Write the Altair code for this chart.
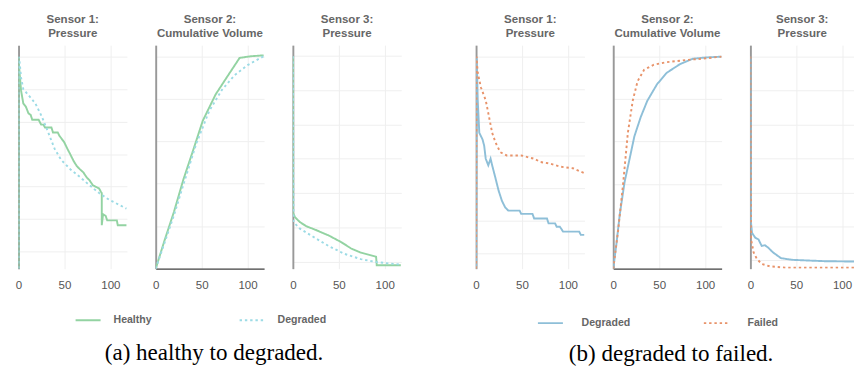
import altair as alt
import pandas as pd

X_TICKS = [0, 50, 100]

# ---------- (a) healthy -> degraded ----------
A_NAMES = ["Healthy", "Degraded"]
A_COLORS = ["#93d3a2", "#9cdbe5"]

a1_healthy_x = [0, 0, 1.0, 2.8, 5.2, 8.0, 10.8, 13.2, 14.9, 21.9, 24.6, 27.1, 28.8, 35.8, 37.5, 42.7, 44.4, 49.7,
                53.1, 56.6, 60.1, 63.5, 67.0, 70.5, 74.0, 77.4, 80.9, 84.4, 87.8, 89.6, 90.6, 90.6, 92.0, 94.8,
                96.5, 107.0, 108.0, 117.5]
a1_healthy_y = [-5.3, 60.0, 55.4, 49.5, 45.6, 44.6, 42.6, 42.1, 40.6, 40.6, 39.1, 39.1, 38.2, 38.2, 36.7, 36.7,
                35.7, 33.7, 31.7, 29.8, 27.8, 26.3, 25.3, 24.4, 22.9, 21.9, 20.4, 19.9, 19.4, 18.4, 18.0, 8.1,
                11.5, 11.0, 9.6, 9.6, 8.1, 8.1]
a1_degraded_x = [0, 0, 1.0, 2.8, 5.2, 11.5, 18.4, 25.3, 32.3, 39.2, 46.2, 56.6, 67.0, 77.4, 87.8, 98.3, 108.7, 117.5]
a1_degraded_y = [-5.3, 60.0, 58.9, 53.5, 50.0, 48.0, 45.6, 41.6, 36.7, 31.7, 28.3, 25.3, 22.9, 20.4, 18.0, 16.0,
                 14.5, 13.2]

a2_healthy_x = [0, 9.4, 19.9, 30.3, 40.8, 51.2, 65.2, 79.1, 91.3, 103.5, 117.5]
a2_healthy_y = [0, 0.65, 1.34, 2.11, 2.79, 3.48, 4.10, 4.56, 4.96, 5.00, 5.02]
a2_degraded_x = [0, 19.9, 30.3, 44.3, 58.2, 72.1, 86.1, 100.0, 117.5]
a2_degraded_y = [0, 1.26, 1.99, 2.95, 3.71, 4.21, 4.56, 4.79, 5.00]

a3_healthy_x = [0, 0, 2.4, 7.7, 14.6, 25.1, 39.0, 53.0, 63.4, 73.9, 90.6, 91.3, 117.5]
a3_healthy_y = [6.0, 1.43, 1.29, 1.15, 1.03, 0.92, 0.76, 0.56, 0.38, 0.26, 0.14, -0.11, -0.11]
a3_degraded_x = [0, 0.7, 7.7, 21.6, 39.0, 56.4, 73.9, 91.3, 117.5]
a3_degraded_y = [6.0, 1.15, 0.96, 0.73, 0.45, 0.22, 0.07, -0.02, -0.09]

# ---------- (b) degraded -> failed ----------
B_NAMES = ["Degraded", "Failed"]
B_COLORS = ["#8ebfd8", "#e8936a"]

b1_degraded_x = [0, 0.7, 1.8, 3.5, 7.0, 8.8, 10.5, 13.3, 15.8, 17.5, 21.1, 24.6, 28.1, 31.6, 35.1, 47.4, 49.1,
                 61.4, 63.2, 77.2, 78.9, 86.0, 87.7, 91.2, 94.7, 112.3, 114.0, 118.0]
b1_degraded_y = [-0.46, 5.95, 4.67, 3.68, 3.48, 3.29, 2.89, 2.69, 2.89, 2.69, 2.30, 1.91, 1.61, 1.41, 1.31, 1.31,
                 1.21, 1.21, 1.07, 1.07, 0.92, 0.92, 0.82, 0.82, 0.67, 0.67, 0.57, 0.57]
b1_failed_x = [0, 0.5, 1.8, 5.3, 10.5, 14.0, 17.5, 21.1, 26.3, 33.3, 49.1, 56.1, 63.2, 70.2, 80.7, 91.2, 105.3, 118.0]
b1_failed_y = [-0.46, 6.0, 5.51, 5.06, 4.67, 4.18, 3.68, 3.39, 3.09, 2.99, 2.99, 2.94, 2.89, 2.79, 2.74, 2.65,
               2.60, 2.45]

b2_degraded_x = [0, 3.5, 7.1, 12.4, 17.7, 23.0, 30.0, 37.1, 47.7, 58.3, 72.4, 86.6, 100.7, 118.0]
b2_degraded_y = [0, 0.59, 1.28, 2.05, 2.58, 3.12, 3.58, 3.96, 4.35, 4.62, 4.82, 4.95, 4.98, 5.00]
b2_failed_x = [0, 5.3, 10.6, 15.9, 21.2, 26.5, 33.6, 44.2, 58.3, 79.5, 100.7, 118.0]
b2_failed_y = [0, 0.90, 1.97, 3.20, 3.96, 4.42, 4.69, 4.81, 4.87, 4.92, 4.96, 5.00]

b3_degraded_x = [0, 0.7, 1.8, 5.3, 8.8, 12.3, 15.8, 19.3, 24.6, 33.3, 45.6, 63.2, 80.7, 113.0]
b3_degraded_y = [6.0, 1.10, 0.81, 0.67, 0.62, 0.43, 0.45, 0.38, 0.24, 0.07, 0.02, 0.0, -0.02, -0.03]
b3_failed_x = [0, 0.7, 3.5, 7.0, 12.3, 21.1, 38.6, 113.0]
b3_failed_y = [6.0, 0.62, 0.24, 0.05, -0.10, -0.17, -0.21, -0.21]

TITLE_FONT = "Liberation Sans"


def make_df(series):
    rows = []
    for name, xs, ys in series:
        for i, (x, y) in enumerate(zip(xs, ys)):
            rows.append({"t": x, "v": y, "series": name, "i": i})
    return pd.DataFrame(rows)


def panel(title, series, names, colors, xmax, width, ydom, yticks, zero_line, leg):
    df = make_df(series)
    leg_x, leg_y, lab_off, col_pad = leg
    legend = alt.Legend(
        title=None, orient="none", legendX=leg_x, legendY=leg_y, direction="horizontal",
        columns=2, gridAlign="all", columnPadding=col_pad, symbolType="stroke", symbolSize=680,
        symbolStrokeWidth=2, labelOffset=lab_off, labelFont=TITLE_FONT, labelFontSize=11,
        labelFontWeight="bold", labelColor="#666",
    )
    return alt.Chart(df).mark_line(strokeWidth=2, clip=True).encode(
        x=alt.X("t:Q", scale=alt.Scale(domain=[0, xmax], nice=False, zero=False),
                axis=alt.Axis(values=X_TICKS, title=None, ticks=False, domain=zero_line,
                              domainColor="#444", domainWidth=1.5, grid=True, gridColor="#eeeeee",
                              labelColor="#555", labelFont=TITLE_FONT, labelFontSize=12,
                              labelPadding=12, labelFlush=False)),
        y=alt.Y("v:Q", scale=alt.Scale(domain=ydom, nice=False, zero=False),
                axis=alt.Axis(values=yticks, title=None, labels=False, ticks=False, domain=True,
                              domainColor="#999", domainWidth=2, grid=True, gridColor="#eeeeee")),
        color=alt.Color("series:N", scale=alt.Scale(domain=names, range=colors), legend=legend),
        strokeDash=alt.StrokeDash("series:N", scale=alt.Scale(domain=names, range=[[1, 0], [2.5, 3]]),
                                  legend=legend),
        order=alt.Order("i:Q"),
    ).properties(
        width=width, height=233,
        title=alt.TitleParams(text=title, font=TITLE_FONT, fontSize=12, fontWeight="bold",
                              color="#666", lineHeight=15, offset=5, anchor="middle"),
    )


T1 = ["Sensor 1:", "Pressure"]
T2 = ["Sensor 2:", "Cumulative Volume"]
T3 = ["Sensor 3:", "Pressure"]

LA = (58, 272, 12, 76)
LB = (63, 275, 18, 72)

a1 = panel(T1, [("Healthy", a1_healthy_x, a1_healthy_y), ("Degraded", a1_degraded_x, a1_degraded_y)],
           A_NAMES, A_COLORS, 118, 113, [-5.3, 63.6], [0, 10, 20, 30, 40, 50, 60], False, LA)
a2 = panel(T2, [("Healthy", a2_healthy_x, a2_healthy_y), ("Degraded", a2_degraded_x, a2_degraded_y)],
           A_NAMES, A_COLORS, 118, 113, [0, 5.26], [0, 1, 2, 3, 4, 5], True, LA)
a3 = panel(T3, [("Healthy", a3_healthy_x, a3_healthy_y), ("Degraded", a3_degraded_x, a3_degraded_y)],
           A_NAMES, A_COLORS, 118, 113, [-0.21, 6.32], [0, 1, 2, 3, 4, 5, 6], False, LA)

b1 = panel(T1, [("Degraded", b1_degraded_x, b1_degraded_y), ("Failed", b1_failed_x, b1_failed_y)],
           B_NAMES, B_COLORS, 118, 113, [-0.46, 6.35], [0, 1, 2, 3, 4, 5, 6], False, LB)
b2 = panel(T2, [("Degraded", b2_degraded_x, b2_degraded_y), ("Failed", b2_failed_x, b2_failed_y)],
           B_NAMES, B_COLORS, 118, 113, [0, 5.27], [0, 1, 2, 3, 4, 5], True, LB)
b3 = panel(T3, [("Degraded", b3_degraded_x, b3_degraded_y), ("Failed", b3_failed_x, b3_failed_y)],
           B_NAMES, B_COLORS, 113, 108, [-0.24, 6.33], [0, 1, 2, 3, 4, 5, 6], False, LB)

CAP = dict(orient="bottom", anchor="middle", font="Liberation Serif", fontSize=24,
           fontWeight="normal", color="#000")

group_a = alt.HConcatChart(hconcat=[a1, a2, a3], spacing=30, bounds="flush",
                           title=alt.TitleParams("(a) healthy to degraded.", offset=17, dx=6, **CAP)
                           ).resolve_scale(x="independent", y="independent")
group_b = alt.HConcatChart(hconcat=[b1, b2, b3], spacing=30, bounds="flush",
                           title=alt.TitleParams("(b) degraded to failed.", offset=15, dx=8, **CAP)
                           ).resolve_scale(x="independent", y="independent")

chart = alt.HConcatChart(hconcat=[group_a, group_b], spacing=74).resolve_scale(
    color="independent", strokeDash="independent"
).properties(
    padding={"left": 7, "top": -2, "right": 0, "bottom": 0}
).configure_view(strokeWidth=0)

chart.save("out.html", embed_options={"renderer": "svg", "actions": False})
